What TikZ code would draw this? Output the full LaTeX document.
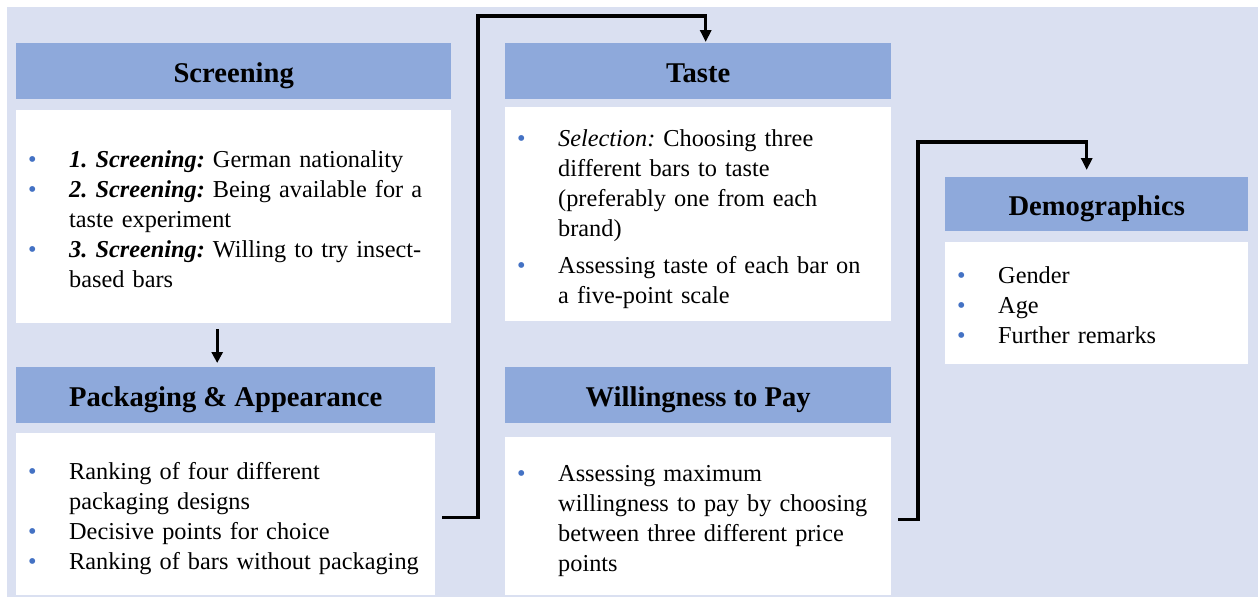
\documentclass[tikz,border=0pt]{standalone}
\usepackage{fontspec}
\setmainfont{Liberation Serif}
\usetikzlibrary{arrows.meta,calc}
\definecolor{bgc}{HTML}{DAE0F1}
\definecolor{hdrc}{HTML}{8EA9DB}
\definecolor{bulc}{HTML}{4472C4}
\frenchspacing
\newcommand{\itm}[1]{\par\lineskip=0pt\relax\lineskiplimit=0pt\relax\noindent\makebox[40pt][l]{\hspace{-1pt}\textcolor{bulc}{\textbullet}}\begin{tabular}[t]{@{}l@{}}#1\end{tabular}\par}
\begin{document}
\begin{tikzpicture}[x=1pt,y=-1pt,
  hdrbox/.style={fill=hdrc, draw=none, inner sep=0pt, anchor=north west,
    font=\fontsize{28.6}{32}\selectfont\bfseries, minimum height=56pt,
    text height=22pt, text depth=0pt},
  bodybox/.style={fill=white, draw=none, anchor=north west, inner xsep=13pt,
    inner ysep=0pt, font=\fontsize{24.3}{30}\selectfont},
  conn/.style={line width=3.2pt, -{Triangle[length=12pt,width=11pt]}},
  connthin/.style={line width=3pt, -{Triangle[length=11pt,width=11pt]}}]
\useasboundingbox (0,0) rectangle (1258,597);
\fill[bgc] (7,7) rectangle (1258,597);

% Screening
\node[hdrbox, minimum width=435pt] (scrh) at (16,43) {Screening};
\node[bodybox, minimum width=435pt, minimum height=213pt, text width=409pt] (scrb) at (16,110) {%
\itm{\textbf{\textit{1. Screening:}} German nationality}
\itm{\textbf{\textit{2. Screening:}} Being available for a\\ taste experiment}
\itm{\textbf{\textit{3. Screening:}} Willing to try insect-\\based bars}};

% Packaging
\node[hdrbox, minimum width=419pt] (packh) at (16,367) {Packaging \& Appearance};
\node[bodybox, minimum width=419pt, minimum height=162pt, text width=393pt] (packb) at (16,433) {%
\itm{Ranking of four different\\ packaging designs}
\itm{Decisive points for choice}
\itm{Ranking of bars without packaging}};

% Taste
\node[hdrbox, minimum width=386pt] (tasteh) at (505,43) {Taste};
\node[bodybox, minimum width=386pt, minimum height=214pt, text width=360pt] (tasteb) at (505,107) {%
\itm{\textit{Selection:} Choosing three\\ different bars to taste\\ (preferably one from each\\ brand)}
\vspace{7pt}
\itm{Assessing taste of each bar on\\ a five-point scale}};

% Willingness to pay
\node[hdrbox, minimum width=386pt] (willh) at (505,367) {Willingness to Pay};
\node[bodybox, minimum width=386pt, minimum height=158pt, text width=360pt] (willb) at (505,437) {%
\itm{Assessing maximum\\ willingness to pay by choosing\\ between three different price\\ points}};

% Demographics
\node[hdrbox, minimum width=303pt, minimum height=54pt] (demoh) at (945,177) {Demographics};
\node[bodybox, minimum width=303pt, minimum height=122pt, text width=277pt] (demob) at (945,242) {%
\itm{Gender}
\itm{Age}
\itm{Further remarks}};

% connectors
\coordinate (p1) at (478,16);
\coordinate (p2) at (918,142);
\draw[connthin] ([xshift=-16.5pt,yshift=-6pt]scrb.south) -- ([xshift=-8.5pt,yshift=4pt]packh.north);
\draw[conn] ([xshift=7pt,yshift=-3pt]packb.east) -| (p1) -| ([xshift=7.5pt,yshift=1pt]tasteh.north);
\draw[conn] ([xshift=7pt,yshift=-3pt]willb.east) -| (p2) -| ([xshift=-10pt,yshift=7pt]demoh.north);
\end{tikzpicture}
\end{document}
